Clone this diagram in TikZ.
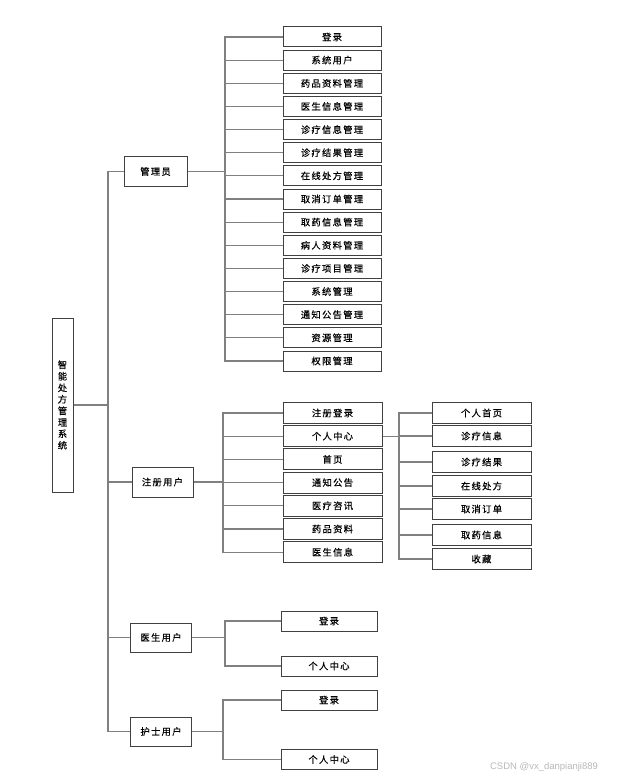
\documentclass[tikz,border=0pt]{standalone}
\usepackage{fontspec}
\setmainfont[LetterSpace=14,FakeBold=0.4]{Noto Sans CJK SC}
\newfontfamily\markfont{Liberation Sans}
\begin{document}
\begin{tikzpicture}[x=1pt,y=-1pt,
    box/.style={draw=black!75,line width=1pt,fill=white,inner sep=0pt,
      font=\fontsize{9.3}{11}\selectfont},
    leaf/.style={box,minimum width=98pt,minimum height=20pt},
    role/.style={box,minimum width=61pt,minimum height=29pt},
    link/.style={draw=black!50,line width=1.1pt}]
      \useasboundingbox (0,0) rectangle (620,778);
      \draw
        (62.5,405) node[box,minimum width=21pt,minimum height=174pt,align=center,
          font=\fontsize{9.3}{11.5}\selectfont] (root){智\\能\\处\\方\\管\\理\\系\\统}
        (155.5,171.5) node[role,minimum width=63pt] (admin){管理员}
        (162.5,482) node[role,minimum height=30pt] (reg){注册用户}
        (161,637.5) node[role] (doc){医生用户}
        (161,731.5) node[role] (nurse){护士用户};
      % administrator
      \draw
        (332,37.0) node[leaf] (a1){登录}
        (332,60.1) node[leaf] (a2){系统用户}
        (332,83.3) node[leaf] (a3){药品资料管理}
        (332,106.4) node[leaf] (a4){医生信息管理}
        (332,129.6) node[leaf] (a5){诊疗信息管理}
        (332,152.7) node[leaf] (a6){诊疗结果管理}
        (332,175.8) node[leaf] (a7){在线处方管理}
        (332,199.0) node[leaf] (a8){取消订单管理}
        (332,222.1) node[leaf] (a9){取药信息管理}
        (332,245.3) node[leaf] (a10){病人资料管理}
        (332,268.4) node[leaf] (a11){诊疗项目管理}
        (332,291.5) node[leaf] (a12){系统管理}
        (332,314.7) node[leaf] (a13){通知公告管理}
        (332,337.8) node[leaf] (a14){资源管理}
        (332,361.0) node[leaf] (a15){权限管理};
      % registered user
      \draw
        (332.5,413.0) node[leaf,minimum width=99pt,minimum height=21pt] (r1){注册登录}
        (332.5,436.2) node[leaf,minimum width=99pt,minimum height=21pt] (cent){个人中心}
        (332.5,459.4) node[leaf,minimum width=99pt,minimum height=21pt] (r3){首页}
        (332.5,482.6) node[leaf,minimum width=99pt,minimum height=21pt] (r4){通知公告}
        (332.5,505.8) node[leaf,minimum width=99pt,minimum height=21pt] (r5){医疗咨讯}
        (332.5,529.0) node[leaf,minimum width=99pt,minimum height=21pt] (r6){药品资料}
        (332.5,552.2) node[leaf,minimum width=99pt,minimum height=21pt] (r7){医生信息}
        (481.5,413) node[leaf,minimum width=99pt,minimum height=21pt] (s1){个人首页}
        (481.5,436) node[leaf,minimum width=99pt,minimum height=21pt] (s2){诊疗信息}
        (481.5,462) node[leaf,minimum width=99pt,minimum height=21pt] (s3){诊疗结果}
        (481.5,486) node[leaf,minimum width=99pt,minimum height=21pt] (s4){在线处方}
        (481.5,509) node[leaf,minimum width=99pt,minimum height=21pt] (s5){取消订单}
        (481.5,535) node[leaf,minimum width=99pt,minimum height=21pt] (s6){取药信息}
        (481.5,559) node[leaf,minimum width=99pt,minimum height=21pt] (s7){收藏};
      % doctor and nurse
      \draw
        (329,621) node[leaf,minimum width=96pt] (d1){登录}
        (329,666) node[leaf,minimum width=96pt] (d2){个人中心}
        (329,700) node[leaf,minimum width=96pt] (n1){登录}
        (329,759.5) node[leaf,minimum width=96pt] (n2){个人中心};
      \coordinate (mbus) at (108,405);
      \coordinate (abus) at (225,171.5);
      \coordinate (rbus) at (223,482);
      \coordinate (sbus) at (399,436.2);
      \coordinate (dbus) at (225,637.5);
      \coordinate (nbus) at (223,731.5);
      \begin{scope}[link]
        \draw (root.east) to (mbus);
        \draw (mbus) |- (admin.west);
        \draw (mbus) |- (reg.west);
        \draw (mbus) |- (doc.west);
        \draw (mbus) |- (nurse.west);
        \draw (admin.east) to (abus);
        \draw (abus) |- (a1.west);
        \draw (abus) |- (a2.west);
        \draw (abus) |- (a3.west);
        \draw (abus) |- (a4.west);
        \draw (abus) |- (a5.west);
        \draw (abus) |- (a6.west);
        \draw (abus) |- (a7.west);
        \draw (abus) |- (a8.west);
        \draw (abus) |- (a9.west);
        \draw (abus) |- (a10.west);
        \draw (abus) |- (a11.west);
        \draw (abus) |- (a12.west);
        \draw (abus) |- (a13.west);
        \draw (abus) |- (a14.west);
        \draw (abus) |- (a15.west);
        \draw (reg.east) to (rbus);
        \draw (rbus) |- (r1.west);
        \draw (rbus) |- (cent.west);
        \draw (rbus) |- (r3.west);
        \draw (rbus) |- (r4.west);
        \draw (rbus) |- (r5.west);
        \draw (rbus) |- (r6.west);
        \draw (rbus) |- (r7.west);
        \draw (cent.east) to (sbus);
        \draw (sbus) |- (s1.west);
        \draw (sbus) |- (s2.west);
        \draw (sbus) |- (s3.west);
        \draw (sbus) |- (s4.west);
        \draw (sbus) |- (s5.west);
        \draw (sbus) |- (s6.west);
        \draw (sbus) |- (s7.west);
        \draw (doc.east) to (dbus);
        \draw (dbus) |- (d1.west);
        \draw (dbus) |- (d2.west);
        \draw (nurse.east) to (nbus);
        \draw (nbus) |- (n1.west);
        \draw (nbus) |- (n2.west);
      \end{scope}
      \node[text=black!28,font=\markfont\fontsize{9.5}{11}\selectfont] (mark) at (544,767) {CSDN @vx\_danpianji889};
    \end{tikzpicture}
\end{document}
